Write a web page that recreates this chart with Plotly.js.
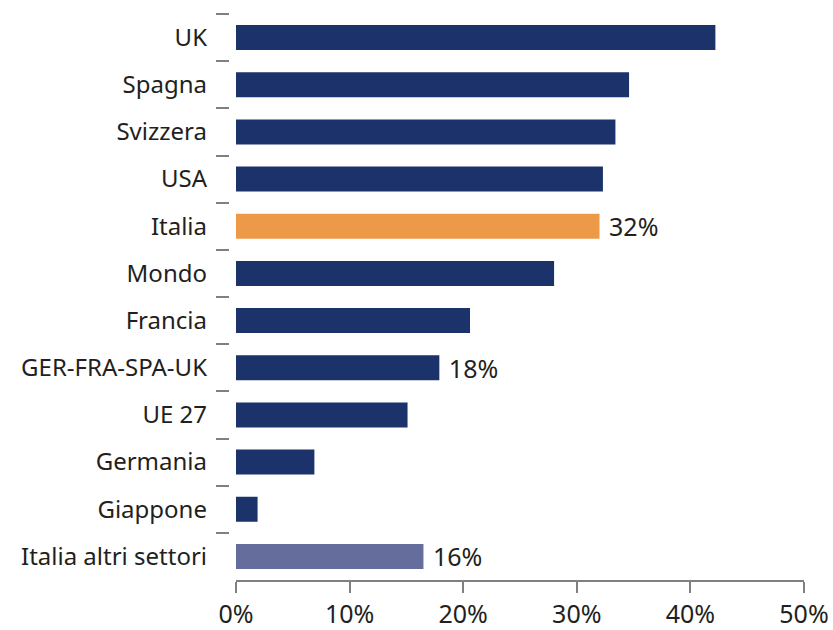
<!DOCTYPE html>
<html>
<head>
<meta charset="utf-8">
<script src="https://cdn.plot.ly/plotly-3.0.1.min.js"></script>
<style>html,body{margin:0;padding:0;background:#fff;}#chart{width:833px;height:630px;}</style>
</head>
<body>
<div id="chart"></div>
<script>
const categories = ["UK","Spagna","Svizzera","USA","Italia","Mondo","Francia","GER-FRA-SPA-UK","UE 27","Germania","Giappone","Italia altri settori"];
const values = [42.2, 34.6, 33.4, 32.3, 32.0, 28.0, 20.6, 17.9, 15.1, 6.9, 1.9, 16.5];
const barLabels = ["", "", "", "", "32%", "", "", "18%", "", "", "", "16%"];
const barColors = ["#1c326b","#1c326b","#1c326b","#1c326b","#ec9a48","#1c326b","#1c326b","#1c326b","#1c326b","#1c326b","#1c326b","#646d9b"];
const xTicks = [0, 10, 20, 30, 40, 50];

const trace = {
  type: 'bar',
  orientation: 'h',
  y: categories,
  x: values,
  marker: {color: barColors},
  text: barLabels.map(t => t ? '\u00a0' + t : ''),
  textposition: 'outside',
  constraintext: 'none',
  cliponaxis: false,
  textfont: {family: 'Noto Sans, sans-serif', size: 25, color: '#231f20'},
  hoverinfo: 'none'
};

const W = 833, L = 229, R = 29;
const pw = W - L - R;

const layout = {
  width: 833, height: 630,
  margin: {l: L, r: R, t: 14, b: 50, pad: 0},
  paper_bgcolor: '#fff', plot_bgcolor: '#fff',
  showlegend: false,
  bargap: 0.47,
  font: {family: 'Noto Sans, sans-serif', size: 24, color: '#231f20'},
  xaxis: {
    domain: [7 / pw, 1],
    range: [0, 50],
    tickvals: xTicks,
    ticktext: xTicks.map(v => v + '%'),
    showgrid: false, zeroline: false,
    showline: true, linecolor: '#808080', linewidth: 2,
    ticks: 'outside', ticklen: 11, tickwidth: 2, tickcolor: '#808080',
    tickfont: {size: 25, color: '#231f20'},
    fixedrange: true
  },
  yaxis: {
    anchor: 'free', position: 0,
    autorange: 'reversed',
    type: 'category',
    showgrid: false, zeroline: false, showline: false,
    ticks: 'outside', tickson: 'boundaries', ticklen: 13, tickwidth: 2, tickcolor: '#808080',
    ticklabelstandoff: 22,
    tickfont: {size: 24, color: '#231f20'},
    fixedrange: true
  }
};

Plotly.newPlot('chart', [trace], layout, {displayModeBar: false, staticPlot: true});
</script>
</body>
</html>
